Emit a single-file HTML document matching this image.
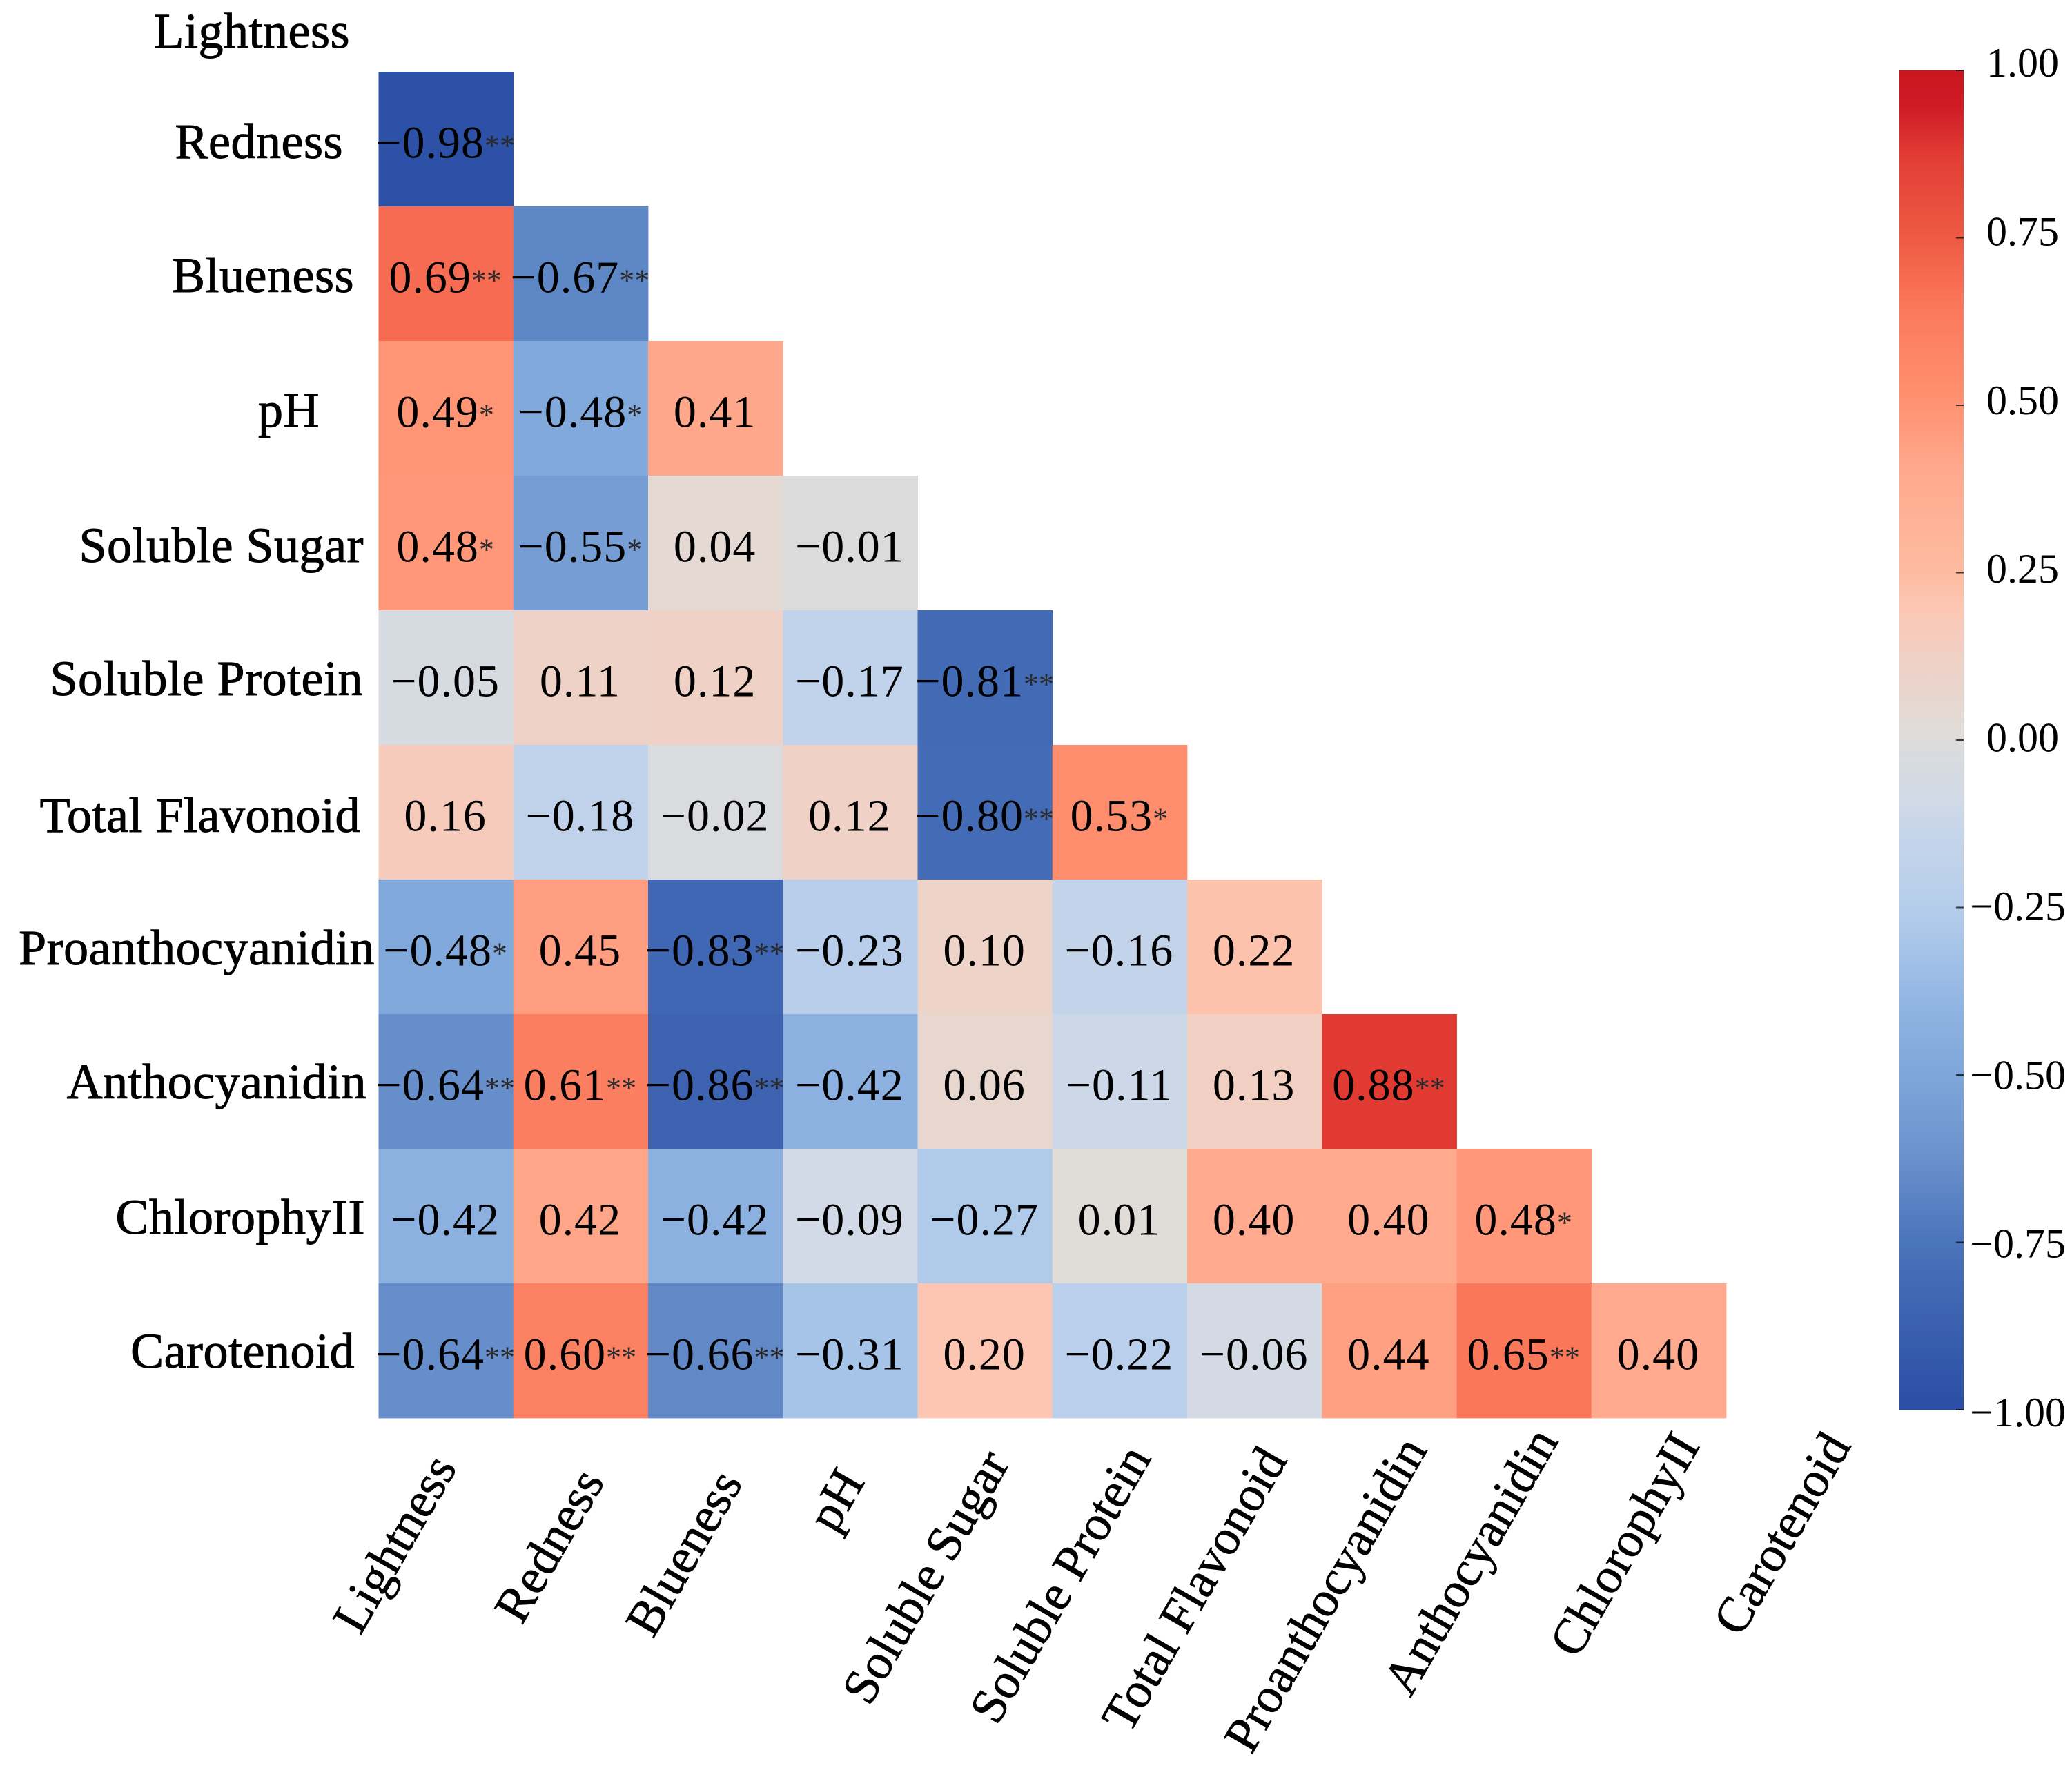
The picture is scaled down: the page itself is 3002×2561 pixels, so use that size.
<!DOCTYPE html>
<html lang="en">
<head>
<meta charset="utf-8">
<title>Correlation heatmap</title>
<style>
html,body{margin:0;padding:0;background:#fff;}
svg{display:block;}
text{font-family:"Liberation Serif","Times New Roman",serif;fill:#000;}
</style>
</head>
<body>
<svg id="chart" xmlns="http://www.w3.org/2000/svg" width="3002" height="2561" viewBox="0 0 3002 2561">
<rect x="0" y="0" width="3002" height="2561" fill="#ffffff"/>
<defs><linearGradient id="cbar-gradient" x1="0" y1="1" x2="0" y2="0"></linearGradient></defs>
<g id="cells"></g>
<g id="values"></g>
<g id="ylabels"></g>
<g id="xlabels"></g>
<g id="colorbar"></g>
</svg>
<script>
const categories = ["Lightness","Redness","Blueness","pH","Soluble Sugar","Soluble Protein","Total Flavonoid","Proanthocyanidin","Anthocyanidin","ChlorophyII","Carotenoid"];
const correlations = [
  [],
  [-0.98],
  [0.69,-0.67],
  [0.49,-0.48,0.41],
  [0.48,-0.55,0.04,-0.01],
  [-0.05,0.11,0.12,-0.17,-0.81],
  [0.16,-0.18,-0.02,0.12,-0.80,0.53],
  [-0.48,0.45,-0.83,-0.23,0.10,-0.16,0.22],
  [-0.64,0.61,-0.86,-0.42,0.06,-0.11,0.13,0.88],
  [-0.42,0.42,-0.42,-0.09,-0.27,0.01,0.40,0.40,0.48],
  [-0.64,0.60,-0.66,-0.31,0.20,-0.22,-0.06,0.44,0.65,0.40]
];
const significance = [
  [],
  ["**"],
  ["**","**"],
  ["*","*",""],
  ["*","*","",""],
  ["","","","","**"],
  ["","","","","**","*"],
  ["*","","**","","","","",""],
  ["**","**","**","","","","","**"],
  ["","","","","","","","","*"],
  ["**","**","**","","","","","","**",""]
];
const colorbarTicks = [1,0.75,0.5,0.25,0,-0.25,-0.5,-0.75,-1];

const colorScale = [
  [-1,"#2a4ea5"],[-0.875,"#3a60ae"],[-0.75,"#4a74bb"],[-0.625,"#6a91cc"],[-0.5,"#7fa6d9"],
  [-0.4,"#8fb4e3"],[-0.25,"#b5cdeb"],[-0.125,"#c8d6ea"],[-0.09,"#d1dae6"],[-0.02,"#d9dbde"],[0.01,"#e0dcd8"],
  [0.125,"#f0d0c4"],[0.2,"#fcc6b2"],[0.25,"#fdbba0"],[0.4,"#ffa98e"],[0.5,"#ff9372"],[0.65,"#fb775a"],
  [0.75,"#ee5a43"],[0.875,"#e13c34"],[0.95,"#cf1a25"],[1,"#c8161f"]
];

const SVGNS = "http://www.w3.org/2000/svg";
const gridLeft = 548.5, gridTop = 104, stepX = 195.25, stepY = 195;
const xScale = col => gridLeft + stepX * col;
const yScale = row => gridTop + stepY * (row - 1);

const cbarLeft = 2752, cbarRight = 2845, cbarTop = 102, cbarBottom = 2042;
const cbarY = v => cbarBottom - (v + 1) / 2 * (cbarBottom - cbarTop);
const cbarLabelY = v => 2066 - (v + 1) / 2 * 1955;

function hexToRgb(h){
  return [parseInt(h.slice(1,3),16),parseInt(h.slice(3,5),16),parseInt(h.slice(5,7),16)];
}
function colorFor(v){
  const c = Math.max(-1, Math.min(1, v));
  for (let i = 1; i < colorScale.length; i++) {
    if (c <= colorScale[i][0]) {
      const a = colorScale[i-1], b = colorScale[i];
      const t = (c - a[0]) / (b[0] - a[0]);
      const p = hexToRgb(a[1]), q = hexToRgb(b[1]);
      return "rgb(" + p.map((x,k) => Math.round(x + (q[k]-x)*t)).join(",") + ")";
    }
  }
  return colorScale[colorScale.length-1][1];
}
function fmt(v){ return v.toFixed(2).replace("-", "\u2212"); }
function slug(s){ return s.toLowerCase().replace(/\s+/g, "-"); }

/* hand-set label nudges (layout only) */
const rowLabelLayout = {
  "Lightness":[507,69],"Redness":[497,229],"Blueness":[513,423],"pH":[463,618],
  "Soluble Sugar":[527,814],"Soluble Protein":[526,1007],"Total Flavonoid":[522,1205],
  "Proanthocyanidin":[543,1397],"Anthocyanidin":[531,1591],"ChlorophyII":[529,1787],"Carotenoid":[514,1981]
};
const colLabelLayout = {
  "Lightness":[663,2126],"Redness":[877,2146],"Blueness":[1077,2148],"pH":[1254,2146],
  "Soluble Sugar":[1464,2119],"Soluble Protein":[1669,2112],"Total Flavonoid":[1866,2115],
  "Proanthocyanidin":[2069,2100],"Anthocyanidin":[2259,2087],"ChlorophyII":[2464,2094],"Carotenoid":[2683,2094]
};

const cellsG = document.getElementById("cells");
const valuesG = document.getElementById("values");
const yG = document.getElementById("ylabels");
const xG = document.getElementById("xlabels");
const cbG = document.getElementById("colorbar");

correlations.forEach((row, r) => {
  row.forEach((v, c) => {
    const rect = document.createElementNS(SVGNS, "rect");
    
    
    rect.setAttribute("x", xScale(c));
    rect.setAttribute("y", yScale(r));
    rect.setAttribute("width", stepX + 0.4);
    rect.setAttribute("height", stepY + 0.4);
    rect.setAttribute("fill", colorFor(v));
    cellsG.appendChild(rect);

    const t = document.createElementNS(SVGNS, "text");
    
    
    t.setAttribute("x", xScale(c) + stepX / 2 - 1);
    t.setAttribute("y", yScale(r) + stepY / 2 + 27);
    t.setAttribute("text-anchor", "middle");
    t.setAttribute("font-size", "66");
    t.setAttribute("letter-spacing", "1");
    t.appendChild(document.createTextNode(fmt(v)));
    const s = significance[r][c];
    if (s) {
      const star = document.createElementNS(SVGNS, "tspan");
      
      
      star.setAttribute("font-size", "44");
      star.setAttribute("letter-spacing", "0");
      star.setAttribute("dy", "-3");
      star.setAttribute("fill", "#2a2a2a");
      star.textContent = s;
      t.appendChild(star);
    }
    valuesG.appendChild(t);
  });
});

categories.forEach((name) => {
  const p = rowLabelLayout[name];
  const t = document.createElementNS(SVGNS, "text");
  
  
  t.setAttribute("x", p[0]);
  t.setAttribute("y", p[1]);
  t.setAttribute("text-anchor", "end");
  t.setAttribute("font-size", "72");
  t.setAttribute("letter-spacing", "0.5");
  t.setAttribute("stroke", "#000");
  t.setAttribute("stroke-width", "1");
  t.textContent = name;
  yG.appendChild(t);

  const q = colLabelLayout[name];
  const u = document.createElementNS(SVGNS, "text");
  
  
  u.setAttribute("text-anchor", "end");
  u.setAttribute("font-size", "72.5");
  u.setAttribute("stroke", "#000");
  u.setAttribute("stroke-width", "0.8");
  u.setAttribute("transform", "translate(" + q[0] + "," + q[1] + ") rotate(-60)");
  u.textContent = name;
  xG.appendChild(u);
});

/* colorbar */
const grad = document.getElementById("cbar-gradient");
colorScale.forEach(st => {
  const stop = document.createElementNS(SVGNS, "stop");
  stop.setAttribute("offset", ((st[0] + 1) / 2 * 100) + "%");
  stop.setAttribute("stop-color", st[1]);
  grad.appendChild(stop);
});
const bar = document.createElementNS(SVGNS, "rect");


bar.setAttribute("x", cbarLeft);
bar.setAttribute("y", cbarTop);
bar.setAttribute("width", cbarRight - cbarLeft);
bar.setAttribute("height", cbarBottom - cbarTop);
bar.setAttribute("fill", "url(#cbar-gradient)");
cbG.appendChild(bar);

colorbarTicks.forEach(v => {
  const tick = document.createElementNS(SVGNS, "line");
  
  
  tick.setAttribute("x1", cbarRight - 11);
  tick.setAttribute("x2", cbarRight);
  tick.setAttribute("y1", cbarY(v));
  tick.setAttribute("y2", cbarY(v));
  tick.setAttribute("stroke", "#111");
  tick.setAttribute("stroke-opacity", "0.8");
  tick.setAttribute("stroke-width", "2");
  cbG.appendChild(tick);

  const t = document.createElementNS(SVGNS, "text");
  
  
  t.setAttribute("x", v < 0 ? 2993 : 2983);
  t.setAttribute("y", cbarLabelY(v));
  t.setAttribute("text-anchor", "end");
  t.setAttribute("font-size", "60");
  t.textContent = fmt(v);
  cbG.appendChild(t);
});
</script>
</body>
</html>
